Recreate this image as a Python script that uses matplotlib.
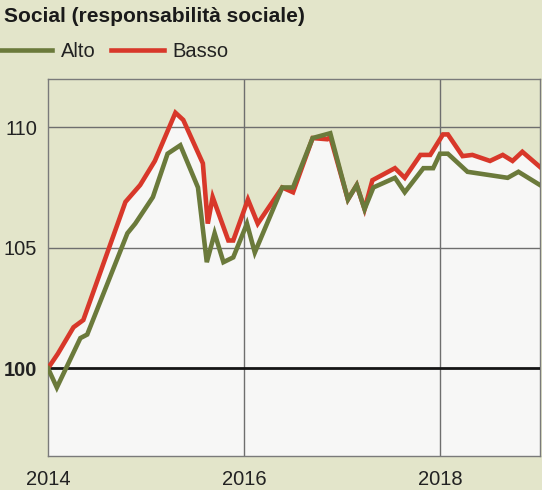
import numpy as np
import matplotlib.pyplot as plt

# time as fractional years
basso_t = [2014.00, 2014.10, 2014.26, 2014.36, 2014.79, 2014.94, 2015.09, 2015.30,
           2015.38, 2015.58, 2015.63, 2015.68, 2015.84, 2015.89, 2016.04, 2016.14,
           2016.39, 2016.50, 2016.70, 2016.85, 2016.88, 2017.06, 2017.15, 2017.23,
           2017.31, 2017.54, 2017.64, 2017.80, 2017.90, 2018.03, 2018.08, 2018.23,
           2018.33, 2018.51, 2018.64, 2018.74, 2018.84, 2019.02]
basso_v = [100.0, 100.6, 101.7, 102.0, 106.9, 107.6, 108.6, 110.6,
           110.3, 108.5, 106.0, 107.1, 105.3, 105.3, 107.0, 106.0,
           107.5, 107.3, 109.55, 109.5, 109.6, 107.0, 107.6, 106.6,
           107.8, 108.3, 107.9, 108.85, 108.85, 109.7, 109.7, 108.8,
           108.85, 108.6, 108.85, 108.6, 108.98, 108.35]

alto_t = [2014.00, 2014.09, 2014.33, 2014.40, 2014.81, 2014.89, 2015.07, 2015.22,
          2015.35, 2015.53, 2015.62, 2015.70, 2015.79, 2015.89, 2016.03, 2016.11,
          2016.39, 2016.50, 2016.70, 2016.88, 2017.06, 2017.15, 2017.23, 2017.32,
          2017.54, 2017.64, 2017.83, 2017.93, 2018.00, 2018.08, 2018.28, 2018.69,
          2018.80, 2019.02]
alto_v = [100.0, 99.2, 101.25, 101.4, 105.6, 106.0, 107.1, 108.9,
          109.25, 107.5, 104.4, 105.6, 104.4, 104.6, 106.0, 104.8,
          107.5, 107.5, 109.55, 109.75, 107.0, 107.6, 106.6, 107.5,
          107.9, 107.3, 108.3, 108.3, 108.9, 108.9, 108.15, 107.9,
          108.15, 107.6]

year_ticks = [2014, 2016, 2018]
y_ticks = [100, 105, 110]

BG = '#e3e5ca'
GREEN = '#6b7a3b'
RED = '#d8382a'

plt.rcParams['font.family'] = ['Liberation Sans', 'DejaVu Sans']

fig = plt.figure(figsize=(5.42, 4.9), dpi=100, facecolor=BG)
ax = fig.add_axes([0.0886, 0.0694, 0.9077, 0.7694])
ax.set_facecolor(BG)

# white area under the upper envelope of the two lines
grid_t = np.union1d(basso_t, alto_t)
upper = np.maximum(np.interp(grid_t, basso_t, basso_v), np.interp(grid_t, alto_t, alto_v))
ax.fill_between(grid_t, upper, 90, color='#f7f7f6', lw=0, zorder=1)

for y in [105, 110]:
    ax.axhline(y, color='#6e6e6e', lw=1.0, zorder=2)
for x in year_ticks[1:]:
    ax.axvline(x, color='#6e6e6e', lw=1.0, zorder=2)
ax.axhline(100, color='#151515', lw=2.0, zorder=3)

ax.plot(basso_t, basso_v, color=RED, lw=3.3, solid_joinstyle='miter', zorder=4, label='Basso')
ax.plot(alto_t, alto_v, color=GREEN, lw=3.3, solid_joinstyle='miter', zorder=5, label='Alto')

ax.set_xlim(2014, 2019.02)
ax.set_ylim(96.36, 112.0)
ax.set_xticks(year_ticks)
ax.set_xticklabels([str(y) for y in year_ticks])
ax.set_yticks(y_ticks)
ax.set_yticklabels([str(y) for y in y_ticks])
ax.get_yticklabels()[0].set_fontweight('bold')
ax.tick_params(length=0, labelsize=14.5, colors='#222222')
ax.tick_params(axis='x', pad=10)
ax.tick_params(axis='y', pad=8)
for s in ax.spines.values():
    s.set_color('#7a7a7a')
    s.set_linewidth(1.0)

fig.text(0.008, 0.985, 'Social (responsabilità sociale)', fontsize=15, fontweight='bold',
         color='#1a1a1a', ha='left', va='top')

handles, labels = ax.get_legend_handles_labels()
fig.legend(handles[::-1], labels[::-1], loc='upper left', bbox_to_anchor=(0.0, 0.915),
           ncol=2, frameon=False, fontsize=14.5, handlelength=2.6, handletextpad=0.45,
           columnspacing=0.75, borderpad=0, borderaxespad=0, labelcolor='#222222')

fig.savefig('out.png', dpi=100, facecolor=BG)
